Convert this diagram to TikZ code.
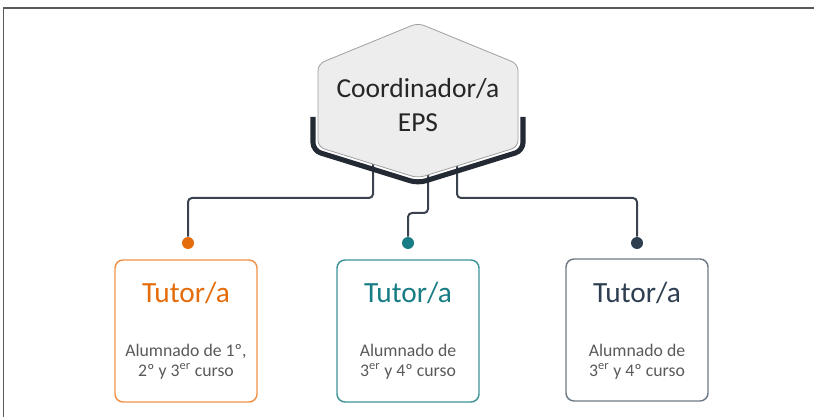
\documentclass[tikz,border=0pt]{standalone}
\usepackage{fontspec}
\setmainfont{Carlito}
\usepackage{xcolor}
\definecolor{orng}{HTML}{E46C0A}
\definecolor{orngln}{HTML}{F29248}
\definecolor{tealc}{HTML}{177C83}
\definecolor{tealln}{HTML}{3C9499}
\definecolor{slate}{HTML}{2F3F52}
\definecolor{slateln}{HTML}{6E7B86}
\definecolor{lnk}{HTML}{3A424E}
\definecolor{bandc}{HTML}{232A34}
\definecolor{hexgray}{HTML}{EDEDED}
\definecolor{bodytxt}{HTML}{595959}

\begin{document}
\begin{tikzpicture}[x=0.75pt,y=-0.75pt,
	link/.style={draw=lnk,line width=1.5pt,rounded corners=3pt},
	tbox/.style={rounded corners=6pt,line width=1.1pt,minimum width=106.5pt,minimum height=106.5pt},
	tdot/.style={circle,inner sep=0pt,minimum size=9pt},
	ttl/.style={font=\fontsize{22}{26}\selectfont},
	body/.style={font=\fontsize{13.3}{15}\selectfont,text=bodytxt,align=center},
	hextxt/.style={font=\fontsize{20.6}{25.5}\selectfont,text=black!85,align=center}]
				\useasboundingbox (0,0) rectangle (814,417);
				\draw[gray!70!black,line width=1.3pt] (3.5,417) -- (3.5,8) -- (814,8);
				
				\coordinate(h1) at (373,160);
				\coordinate(h2) at (428,160);
				\coordinate(h3) at (457,160);
				\node(d1) at (188,243)[tdot,fill=orng]{};
				\node(d2) at (408,243)[tdot,fill=tealc]{};
				\node(d3) at (637,243)[tdot,fill=slate]{};
				
				\draw[link] (h1) -- ++(0,38) -| (d1);
				\draw[link] (h2) -- ++(0,53) -| (d2);
				\draw[link] (h3) -- ++(0,38) -| (d3);
				
				\filldraw[fill=hexgray,draw=gray!75,line width=0.6pt,rounded corners=5pt] (418,23) -- (518,64) -- (518,147) -- (418,178) -- (318,147) -- (318,64) -- cycle;
				\draw[bandc,line width=3.8pt,rounded corners=6pt] (313,117) -- (313,150.6) -- (418,183.2) -- (523,150.6) -- (523,117);
				\node(hex) at (418,105)[hextxt]{Coordinador/a\\EPS};
				
				\node(b1) at (186,331)[tbox,draw=orngln]{};
				\node(b2) at (408,331)[tbox,draw=tealln]{};
				\node(b3) at (637,330)[tbox,draw=slateln]{};
				
				\node(t1) at (186,293)[ttl,text=orng]{Tutor/a};
				\node(t2) at (408,293)[ttl,text=tealc]{Tutor/a};
				\node(t3) at (637,293)[ttl,text=slate]{Tutor/a};
				
				\node(a1) at (186,362)[body]{Alumnado de 1º,\\2º y 3\textsuperscript{er} curso};
				\node(a2) at (408,362)[body]{Alumnado de\\3\textsuperscript{er} y 4º curso};
				\node(a3) at (637,362)[body]{Alumnado de\\3\textsuperscript{er} y 4º curso};
			\end{tikzpicture}
\end{document}
